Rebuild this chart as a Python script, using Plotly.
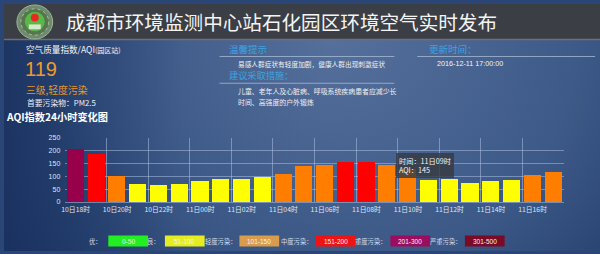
import base64
import plotly.graph_objects as go

W, H = 600, 254

# ---------------- data ----------------
title = "成都市环境监测中心站石化园区环境空气实时发布"
hours = ["10日18时", "10日19时", "10日20时", "10日21时", "10日22时", "10日23时",
         "11日00时", "11日01时", "11日02时", "11日03时", "11日04时", "11日05时",
         "11日06时", "11日07时", "11日08时", "11日09时", "11日10时", "11日11时",
         "11日12时", "11日13时", "11日14时", "11日15时", "11日16时", "11日17时"]
aqi = [207, 187, 102, 69, 66, 72, 82, 92, 92, 97, 110, 140,
       146, 156, 158, 145, 128, 86, 90, 74, 81, 88, 104, 119]
current_aqi = 119
current_level = "三级,轻度污染"
primary_pollutant = "PM2.5"
update_time = "2016-12-11 17:00:00"
tip_text = "易感人群症状有轻度加剧，健康人群出现刺激症状"
advice_lines = ["儿童、老年人及心脏病、呼吸系统疾病患者应减少长", "时间、高强度的户外锻炼"]
tooltip_index = 15
yticks = [0, 50, 100, 150, 200, 250]

legend_labels = ["优：", "良：", "轻度污染：", "中度污染：", "重度污染：", "严重污染："]
legend_ranges = ["0-50", "51-100", "101-150", "151-200", "201-300", "301-500"]
legend_colors = ["#22ee22", "#e6ec22", "#d99b4c", "#ee1414", "#9c0d5e", "#7a0a26"]
bar_thresholds = [50, 100, 150, 200, 300]
bar_level_colors = ["#00e400", "#ffff00", "#ff7e00", "#ff0000", "#99004c", "#7e0023"]


def level_color(v):
    for t, c in zip(bar_thresholds, bar_level_colors):
        if v <= t:
            return c
    return bar_level_colors[-1]


def px(x):
    return x / W


def py(y):
    return 1 - y / H


CJK = "Noto Sans CJK SC"

fig = go.Figure()
fig.add_trace(go.Bar(
    x=list(range(len(hours))), y=aqi,
    marker=dict(color=[level_color(v) for v in aqi], line=dict(width=0)),
    width=0.82, hoverinfo="skip", xaxis="x", yaxis="y",
))
# invisible trace for boundary grid axis
fig.add_trace(go.Scatter(x=[-0.5, 23.5], y=[0, 0], mode="markers",
                         marker=dict(opacity=0), xaxis="x2", yaxis="y",
                         hoverinfo="skip", showlegend=False))

grid_col = "rgba(170,190,225,0.55)"
x_dom = [px(61.7), px(563.5)]
y_dom = [py(203.5), py(137.5)]

bg_svg = f"""<svg xmlns='http://www.w3.org/2000/svg' width='{W}' height='{H}' viewBox='0 0 {W} {H}' preserveAspectRatio='none'>
<defs>
<radialGradient id='g' cx='0.55' cy='0.15' r='0.75' gradientTransform='translate(0.55 0.15) scale(1 2.2) translate(-0.55 -0.15)'>
<stop offset='0' stop-color='#5a74a0'/>
<stop offset='0.55' stop-color='#3d5a88'/>
<stop offset='1' stop-color='#1a3363'/>
</radialGradient>
<linearGradient id='l' x1='0' y1='0' x2='1' y2='0'>
<stop offset='0' stop-color='#162e5c' stop-opacity='0.75'/>
<stop offset='0.3' stop-color='#162e5c' stop-opacity='0.1'/>
<stop offset='1' stop-color='#162e5c' stop-opacity='0'/>
</linearGradient>
</defs>
<rect width='{W}' height='{H}' fill='url(#g)'/>
<rect width='{W}' height='{H}' fill='url(#l)'/>
</svg>"""
bg_uri = "data:image/svg+xml;base64," + base64.b64encode(bg_svg.encode()).decode()

shapes = []
# title bar
shapes.append(dict(type="rect", xref="paper", yref="paper", x0=0, x1=1, y0=py(36), y1=1,
                   fillcolor="#3b3e44", line=dict(width=0), layer="above"))
shapes.append(dict(type="line", xref="paper", yref="paper", x0=0, x1=1, y0=py(36.5), y1=py(36.5),
                   line=dict(color="#6b6f76", width=1.5), layer="above"))
# logo
shapes += [
    dict(type="circle", xref="paper", yref="paper", x0=px(13), x1=px(49), y0=py(36), y1=py(1),
         fillcolor="#6f8a6c", line=dict(color="#9fb59a", width=1), layer="above"),
    dict(type="circle", xref="paper", yref="paper", x0=px(17), x1=px(45), y0=py(32), y1=py(5),
         fillcolor="#55764f", line=dict(color="#b9ccb0", width=0.8, dash="dot"), layer="above"),
    dict(type="circle", xref="paper", yref="paper", x0=px(21), x1=px(41), y0=py(28), y1=py(8),
         fillcolor="#58b848", line=dict(width=0), layer="above"),
    dict(type="circle", xref="paper", yref="paper", x0=px(27), x1=px(35), y0=py(18), y1=py(10),
         fillcolor="#e82a1e", line=dict(width=0), layer="above"),
    dict(type="rect", xref="paper", yref="paper", x0=px(25), x1=px(37), y0=py(26), y1=py(21),
         fillcolor="#d8e8d0", line=dict(width=0), layer="above"),
]
# section lines
for x0, x1, y in [(217, 393, 54), (217, 393, 81.5), (416, 595, 54)]:
    shapes.append(dict(type="line", xref="paper", yref="paper", x0=px(x0), x1=px(x1),
                       y0=py(y), y1=py(y), line=dict(color="rgba(170,190,215,0.75)", width=1)))
# legend boxes
legend_box_x = [105, 162, 237, 314, 389, 464]
for bx, col in zip(legend_box_x, legend_colors):
    shapes.append(dict(type="rect", xref="paper", yref="paper", x0=px(bx), x1=px(bx + 40),
                       y0=py(249.5), y1=py(238), fillcolor=col, line=dict(width=0)))

ann = []


def text(x, y, s, size, color="#ffffff", anchor="left", family=CJK, bold=False):
    if bold:
        s = f"<b>{s}</b>"
    ann.append(dict(xref="paper", yref="paper", x=px(x), y=py(y), text=s, showarrow=False,
                    xanchor=anchor, yanchor="middle",
                    font=dict(size=size, color=color, family=family)))


text(60, 18, title, 19.6, "#f4f4f4")
text(20, 46.5, "空气质量指数/AQI<span style='font-size:7px'>(园区站)</span>", 8.6, "#f0f2f6")
text(19, 67, str(current_aqi), 20, "#ee9a30", family="Liberation Sans, Arial")
text(20, 88, current_level, 9.8, "#e8962c")
text(21, 101.5, "首要污染物：" + primary_pollutant, 7.8, "#eef0f4")
text(0, 116, "AQI指数24小时变化图", 10.2, "#ffffff", bold=True)

blue = "#3fa2e0"
text(224, 46.5, "温馨提示", 9.5, blue)
text(234, 62, tip_text, 6.7, "#f0f0f0")
text(224, 73.5, "建议采取措施：", 9.2, blue)
text(234, 89.5, advice_lines[0], 6.9, "#f0f0f0")
text(234, 100.5, advice_lines[1], 6.9, "#f0f0f0")
text(426, 46.5, "更新时间：", 9.5, blue)
text(434, 61.5, update_time, 7.2, "#f4f4f4", family="Liberation Sans, Arial")

label_right = [101, 159, 235.5, 312, 387, 462.5]
for lx, lab, rng, bx in zip(label_right, legend_labels, legend_ranges, legend_box_x):
    text(lx, 244, lab, 6.3, "#d5dcea", anchor="right")
    text(bx + 20, 244, rng, 6.5, "#f4f4f4", anchor="center", family="Liberation Sans, Arial")

# tooltip
ann.append(dict(xref="paper", yref="paper", x=px(395), y=py(153), xanchor="left", yanchor="top",
                text=f"时间：{hours[tooltip_index]}<br>AQI：{aqi[tooltip_index]}",
                showarrow=False, align="left", bgcolor="rgba(55,58,66,0.82)",
                borderpad=3, borderwidth=0,
                font=dict(size=7.2, color="#f4f4f4", family=CJK)))

fig.update_layout(
    width=W, height=H, autosize=False,
    margin=dict(l=0, r=0, t=0, b=0),
    paper_bgcolor="#2a4676", plot_bgcolor="rgba(0,0,0,0)",
    showlegend=False, bargap=0,
    images=[dict(source=bg_uri, xref="paper", yref="paper", x=0, y=1, sizex=1, sizey=1,
                 sizing="stretch", layer="below", xanchor="left", yanchor="top")],
    xaxis=dict(domain=x_dom, range=[-0.5, 23.5], tickvals=list(range(0, 24, 2)),
               ticktext=hours[::2], showgrid=False, zeroline=False,
               showline=True, linecolor=grid_col, linewidth=1,
               ticks="", tickfont=dict(size=6.8, color="#dfe6f2", family=CJK), ticklabelstandoff=1),
    xaxis2=dict(domain=x_dom, range=[-0.5, 23.5], overlaying="x", anchor="y",
                tickvals=[i + 0.5 for i in range(-1, 24, 2)], showgrid=True, gridcolor=grid_col,
                gridwidth=1, showticklabels=False, ticks="", zeroline=False, showline=False),
    yaxis=dict(domain=y_dom, range=[0, 250], tickvals=yticks, showgrid=True, gridcolor=grid_col,
               gridwidth=1, zeroline=False, showline=False, ticks="",
               tickfont=dict(size=7, color="#dfe6f2", family="Liberation Sans, Arial"),
               ticklabelstandoff=4),
    shapes=shapes, annotations=ann,
)
fig.write_html("out.html")
